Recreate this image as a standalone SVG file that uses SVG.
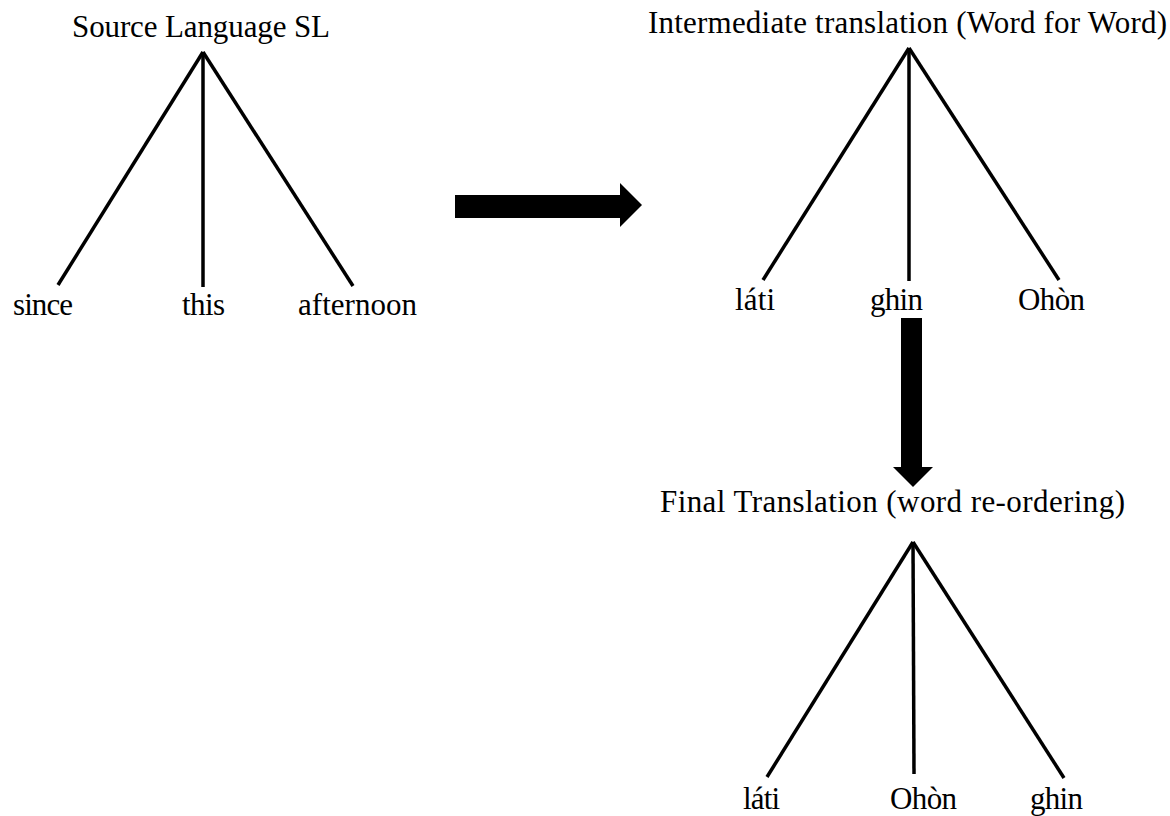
<svg xmlns="http://www.w3.org/2000/svg" width="1170" height="816" viewBox="0 0 1170 816">
  <style>
    text { font-family: "Liberation Serif", "Times New Roman", serif; font-size: 31px; fill: #000; }
    .edge { stroke: #000; stroke-width: 3.5; fill: none; stroke-linecap: butt; }
    .bigarrow { fill: #000; }
  </style>
  <rect width="1170" height="816" fill="#fff"/>

  <g id="connectors">
    <!-- tree 1 -->
    <line class="edge" x1="203" y1="52" x2="58" y2="285"/>
    <line class="edge" x1="203" y1="52" x2="203" y2="287"/>
    <line class="edge" x1="203" y1="52" x2="353" y2="286"/>
    <!-- tree 2 -->
    <line class="edge" x1="909" y1="48" x2="763" y2="280"/>
    <line class="edge" x1="909" y1="48" x2="909" y2="281"/>
    <line class="edge" x1="909" y1="48" x2="1059" y2="280"/>
    <!-- tree 3 -->
    <line class="edge" x1="913" y1="542" x2="767" y2="777"/>
    <line class="edge" x1="913" y1="542" x2="914" y2="774"/>
    <line class="edge" x1="913" y1="542" x2="1064" y2="778"/>
    <!-- block arrows -->
    <polygon class="bigarrow" points="455,195 620,195 620,183 642,205 620,227 620,218 455,218"/>
    <polygon class="bigarrow" points="901,318 922,318 922,467 933,467 913,487 893,467 901,467"/>
  </g>

  <g id="source-root"><text x="72" y="37" textLength="258">Source Language SL</text></g>
  <g id="source-since"><text x="13" y="315" textLength="60">since</text></g>
  <g id="source-this"><text x="182" y="315" textLength="43">this</text></g>
  <g id="source-afternoon"><text x="298" y="315" textLength="119">afternoon</text></g>

  <g id="intermediate-root"><text x="648" y="33" textLength="519">Intermediate translation (Word for Word)</text></g>
  <g id="intermediate-lati"><text x="735" y="310" textLength="40">láti</text></g>
  <g id="intermediate-ghin"><text x="870" y="310" textLength="53">ghin</text></g>
  <g id="intermediate-ohon"><text x="1018" y="310" textLength="67">Ohòn</text></g>

  <g id="final-root"><text x="660" y="512" textLength="465">Final Translation (word re-ordering)</text></g>
  <g id="final-lati"><text x="743" y="809" textLength="37">láti</text></g>
  <g id="final-ohon"><text x="890" y="809" textLength="67">Ohòn</text></g>
  <g id="final-ghin"><text x="1030" y="809" textLength="53">ghin</text></g>
</svg>
